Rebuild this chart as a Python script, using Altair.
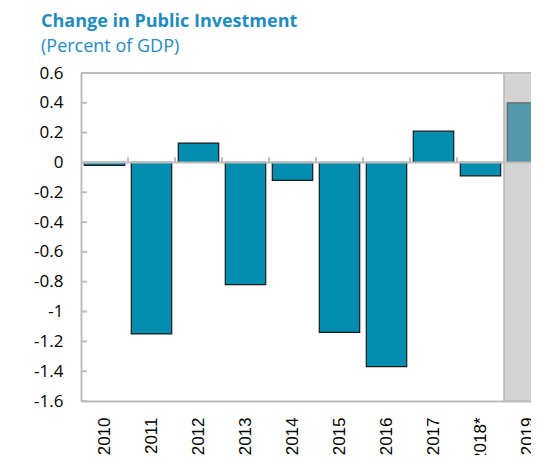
import json
import altair as alt
import pandas as pd

# ---- data ----
years = ["2010", "2011", "2012", "2013", "2014", "2015", "2016", "2017", "2018*", "2019"]
values = [-0.02, -1.15, 0.13, -0.82, -0.12, -1.14, -1.37, 0.21, -0.09, 0.40]
projection = [False, False, False, False, False, False, False, False, False, True]
y_ticks = [0.6, 0.4, 0.2, 0.0, -0.2, -0.4, -0.6, -0.8, -1.0, -1.2, -1.4, -1.6]

idx = list(range(len(years)))
df = pd.DataFrame({"i": idx, "year": years, "value": values, "proj": projection})
df_bound = df.iloc[1:].reset_index(drop=True)
df_zero = pd.DataFrame({"value": [0.0]})
df_top = pd.DataFrame({"value": [max(y_ticks)]})
df_yt = pd.DataFrame({"value": y_ticks})

FONT = "Open Sans"
XFONT = "Liberation Sans"
BLUE = "#008DB0"
BLUE_PROJ = "#5399AC"
TITLE_C = "#1F8BBF"
FRAME = "#BDBDBD"

W = 450          # visible plot width (the last category runs off the page)
H = 328
STEP = 47        # width of one category slot
BAR = 0.86       # bar width as share of a slot
XMAX = W / STEP

xscale = alt.Scale(domain=[0, XMAX], nice=False, zero=False)
yscale = alt.Scale(domain=[min(y_ticks), max(y_ticks)], nice=False, zero=False)

label_expr = json.dumps(years) + "[floor(datum.value)]"
x_axis = alt.Axis(title=None, orient="bottom", values=[i + 0.5 for i in idx],
                  tickCount=len(idx) + 2,
                  labelExpr=label_expr, labelAngle=270, labelAlign="right",
                  labelBaseline="middle", labelFont=XFONT,
                  labelFontSize=17, labelColor="black", labelPadding=16,
                  ticks=False, domain=True, domainColor=FRAME, domainWidth=2,
                  grid=False, labelOverlap=False, labelFlush=False, labelBound=False)
y_axis = alt.Axis(title=None, values=y_ticks, tickCount=len(y_ticks) + 2,
                  labelExpr="toString(round(datum.value*10)/10)",
                  labelFont=FONT, labelFontSize=17, labelColor="black",
                  labelPadding=18, ticks=False, domain=True, domainColor=FRAME,
                  domainWidth=2, grid=False,
                  labelOverlap=False, labelBound=False, labelFlush=False)

X = alt.X("x0:Q", scale=xscale, axis=x_axis)
Y = alt.Y("value:Q", scale=yscale, axis=y_axis)

shade = alt.Chart(df).transform_filter("datum.proj").transform_calculate(
    x0="datum.i", x1="datum.i + 1"
).mark_rect(color="#D4D4D4", stroke="#B5B5B5", strokeWidth=1.5, clip=True).encode(
    x=X, x2="x1:Q", y=alt.value(0), y2=alt.value(H)
)

bars = alt.Chart(df).transform_calculate(
    x0=f"datum.i + {(1 - BAR) / 2}", x1=f"datum.i + {1 - (1 - BAR) / 2}"
).mark_bar(strokeWidth=1.2, clip=True).encode(
    x=X, x2="x1:Q",
    y=Y, y2=alt.datum(0),
    color=alt.condition("datum.proj", alt.value(BLUE_PROJ), alt.value(BLUE)),
    stroke=alt.condition("datum.proj", alt.value("#666666"), alt.value("#1A1A1A")),
)

zero = alt.Chart(df_zero).mark_rule(color=FRAME, strokeWidth=2).encode(
    y=Y, x=alt.value(0), x2=alt.value(W)
)

top = alt.Chart(df_top).mark_rule(color=FRAME, strokeWidth=2).encode(
    y=Y, x=alt.value(0), x2=alt.value(W)
)

xticks = alt.Chart(df_bound).transform_calculate(x0="datum.i").mark_rule(
    color=FRAME, strokeWidth=2, clip=True
).encode(x=X, y=alt.datum(0), y2=alt.datum(0.035))

yticks = alt.Chart(df_yt).mark_rule(color=FRAME, strokeWidth=2).encode(
    y=Y, x=alt.value(0), x2=alt.value(6)
)

chart = alt.layer(shade, bars, zero, top, xticks, yticks).properties(
    width=W, height=H,
    padding={"left": 73, "top": 65, "right": 0, "bottom": 54},
    autosize=alt.AutoSizeParams(type="none"),
    title=alt.TitleParams(
        text="Change in Public Investment", subtitle="(Percent of GDP)",
        anchor="start", frame="group", dx=-40, offset=8,
        font=FONT, fontSize=18, fontWeight="bold", color=TITLE_C,
        subtitleFont=FONT, subtitleFontSize=18, subtitleColor=TITLE_C,
        subtitlePadding=7,
    ),
).configure_view(stroke=None)

chart.save("out.html", embed_options={"renderer": "svg", "actions": False})
